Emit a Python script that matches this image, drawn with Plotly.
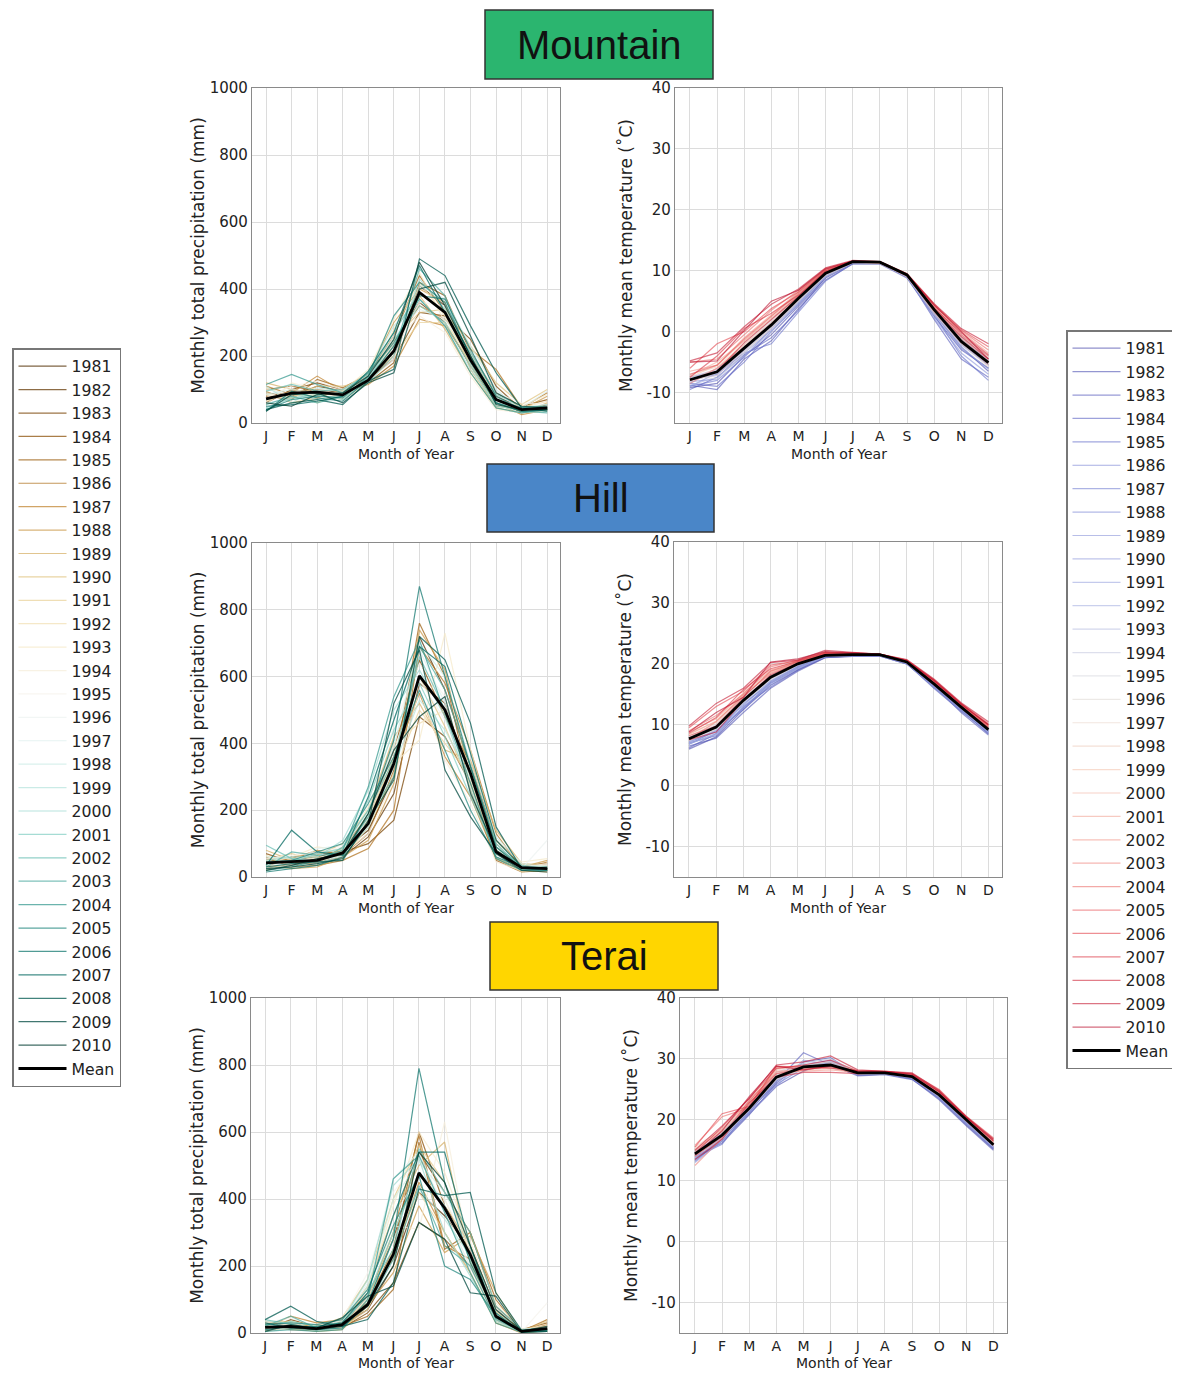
import plotly.graph_objects as go
from plotly.colors import sample_colorscale, diverging

# ---------------- data ----------------
month_labels = ["J", "F", "M", "A", "M", "J", "J", "A", "S", "O", "N", "D"]
month_idx = list(range(12))
years = list(range(1981, 2011))

mountain_precip = [
    [75, 95, 100, 90, 125, 200, 410, 350, 200, 80, 45, 40],
    [90, 80, 110, 95, 140, 240, 360, 300, 170, 60, 35, 55],
    [60, 100, 120, 100, 130, 190, 330, 320, 250, 110, 40, 50],
    [100, 110, 95, 85, 120, 180, 420, 380, 210, 90, 50, 70],
    [80, 70, 130, 105, 145, 260, 440, 330, 190, 70, 30, 45],
    [110, 85, 80, 75, 130, 230, 350, 310, 220, 160, 45, 90],
    [70, 90, 140, 95, 115, 170, 310, 290, 180, 60, 25, 40],
    [95, 60, 75, 100, 150, 300, 400, 360, 160, 50, 40, 80],
    [120, 100, 90, 80, 135, 210, 380, 280, 150, 45, 30, 60],
    [85, 75, 110, 110, 125, 250, 330, 340, 230, 120, 55, 100],
    [65, 95, 60, 90, 140, 200, 300, 300, 200, 80, 35, 45],
    [105, 80, 85, 70, 120, 280, 420, 320, 170, 55, 45, 65],
    [55, 120, 100, 95, 160, 310, 450, 300, 190, 70, 50, 85],
    [90, 65, 70, 85, 130, 240, 320, 270, 140, 40, 30, 35],
    [75, 110, 125, 100, 145, 220, 360, 350, 210, 90, 60, 55],
    [100, 85, 95, 80, 125, 190, 390, 330, 180, 65, 40, 50],
    [60, 70, 80, 75, 135, 260, 340, 310, 200, 75, 45, 95],
    [85, 100, 90, 90, 140, 230, 410, 370, 230, 100, 35, 40],
    [110, 60, 105, 95, 150, 290, 370, 290, 160, 55, 30, 45],
    [70, 90, 70, 85, 120, 200, 430, 340, 190, 60, 45, 55],
    [45, 75, 85, 70, 130, 250, 350, 300, 170, 50, 40, 35],
    [95, 115, 95, 100, 145, 270, 390, 330, 210, 85, 50, 45],
    [55, 80, 60, 80, 135, 210, 460, 380, 180, 60, 35, 30],
    [115, 145, 115, 90, 150, 240, 370, 290, 150, 45, 30, 40],
    [40, 70, 80, 75, 140, 320, 420, 360, 200, 70, 45, 50],
    [35, 95, 75, 65, 130, 230, 380, 370, 220, 80, 40, 45],
    [50, 55, 65, 80, 155, 270, 470, 330, 190, 60, 35, 40],
    [40, 60, 70, 55, 125, 160, 490, 440, 290, 150, 45, 35],
    [35, 85, 90, 60, 120, 150, 400, 420, 260, 90, 50, 45],
    [60, 50, 85, 90, 140, 250, 480, 350, 200, 55, 40, 40],
]
mountain_precip_mean = [72, 89, 92, 84, 128, 215, 390, 330, 188, 70, 40, 45]

mountain_temp = [
    [-9.2, -8.5, -4.0, -0.5, 4.2, 8.8, 11.2, 11.2, 9.0, 3.0, -2.5, -6.5],
    [-8.8, -9.5, -4.5, -1.5, 3.8, 8.5, 11.1, 11.1, 8.8, 2.5, -3.0, -6.0],
    [-9.5, -7.5, -3.8, -1.0, 3.5, 9.0, 11.3, 11.2, 9.1, 2.0, -4.5, -7.5],
    [-8.5, -9.0, -5.0, 0.0, 4.5, 9.2, 11.4, 11.3, 9.2, 3.2, -2.0, -5.5],
    [-8.0, -7.0, -3.5, -2.0, 3.2, 8.3, 11.2, 11.2, 9.0, 2.8, -4.0, -8.0],
    [-9.0, -8.0, -4.2, 0.5, 4.8, 9.4, 11.5, 11.3, 9.3, 3.5, -1.5, -4.5],
    [-7.5, -6.5, -2.5, 1.0, 5.0, 9.2, 11.4, 11.3, 9.1, 3.0, -2.8, -6.0],
    [-8.2, -7.8, -3.0, 0.8, 5.2, 9.6, 11.5, 11.4, 9.4, 3.8, -1.0, -5.0],
    [-9.0, -6.8, -3.5, 0.2, 4.5, 9.0, 11.3, 11.2, 9.0, 2.2, -3.5, -7.0],
    [-7.8, -7.2, -2.8, 1.2, 5.5, 9.5, 11.5, 11.4, 9.3, 4.0, -1.2, -4.8],
    [-8.5, -6.0, -3.2, 0.5, 5.0, 9.3, 11.4, 11.3, 9.2, 3.3, -2.2, -5.5],
    [-8.8, -7.5, -4.0, 0.0, 4.8, 9.0, 11.3, 11.2, 9.0, 2.8, -2.5, -6.2],
    [-7.5, -6.2, -2.5, 1.5, 5.5, 9.8, 11.6, 11.4, 9.4, 3.8, -1.0, -4.5],
    [-8.0, -6.5, -2.0, 1.8, 6.0, 10.0, 11.6, 11.5, 9.5, 4.2, -0.8, -4.0],
    [-7.2, -7.8, -3.5, 0.8, 5.2, 9.4, 11.4, 11.3, 9.2, 3.5, -1.8, -5.2],
    [-8.2, -6.8, -2.8, 1.0, 5.4, 9.6, 11.5, 11.4, 9.3, 3.6, -1.5, -5.0],
    [-7.8, -7.2, -3.2, 0.5, 5.0, 9.2, 11.3, 11.2, 9.0, 3.0, -2.0, -5.8],
    [-7.0, -5.8, -2.0, 2.0, 6.2, 10.2, 11.6, 11.5, 9.5, 4.5, -0.5, -4.2],
    [-7.5, -5.5, -1.5, 2.5, 6.5, 10.0, 11.5, 11.4, 9.4, 4.0, -1.0, -4.5],
    [-8.0, -6.0, -2.2, 1.5, 5.8, 9.8, 11.5, 11.4, 9.3, 3.2, -1.5, -5.5],
    [-7.2, -5.0, -1.5, 2.2, 6.0, 9.9, 11.5, 11.3, 9.2, 3.8, -1.2, -4.8],
    [-6.5, -5.5, -1.0, 2.8, 6.5, 10.2, 11.6, 11.4, 9.4, 4.2, 0.0, -3.5],
    [-8.5, -6.0, -2.5, 1.2, 5.5, 9.6, 11.4, 11.3, 9.2, 3.5, -1.8, -5.2],
    [-5.0, -4.5, -0.5, 3.5, 6.8, 10.4, 11.6, 11.5, 9.5, 4.5, 0.2, -3.0],
    [-7.0, -5.5, -1.2, 2.5, 6.2, 10.0, 11.5, 11.4, 9.3, 4.0, -0.5, -4.0],
    [-6.0, -2.0, 0.0, 3.8, 6.5, 10.2, 11.6, 11.5, 9.4, 4.3, 0.3, -2.5],
    [-7.5, -4.0, 0.5, 3.0, 6.0, 9.8, 11.5, 11.4, 9.3, 3.8, -0.2, -3.8],
    [-8.0, -6.5, -1.8, 2.0, 5.8, 10.0, 11.5, 11.4, 9.2, 3.5, -0.8, -4.5],
    [-4.8, -3.5, 0.8, 4.5, 7.0, 10.5, 11.7, 11.5, 9.5, 4.6, 0.5, -2.0],
    [-5.0, -4.8, 0.2, 5.0, 6.8, 10.3, 11.6, 11.4, 9.4, 4.4, 0.0, -4.5],
]
mountain_temp_mean = [-7.9, -6.6, -2.7, 1.1, 5.5, 9.6, 11.5, 11.4, 9.3, 3.6, -1.6, -5.1]

hill_precip = [
    [40, 50, 60, 80, 140, 300, 720, 560, 330, 90, 30, 20],
    [55, 35, 45, 60, 120, 250, 580, 520, 300, 70, 25, 30],
    [30, 60, 70, 75, 100, 170, 480, 420, 280, 60, 20, 25],
    [70, 45, 40, 90, 180, 380, 650, 480, 340, 110, 35, 40],
    [25, 40, 55, 65, 130, 320, 760, 600, 260, 50, 15, 20],
    [60, 30, 35, 50, 85, 200, 690, 580, 380, 130, 25, 45],
    [45, 55, 80, 70, 160, 350, 550, 360, 240, 55, 20, 15],
    [35, 25, 30, 60, 110, 280, 740, 620, 290, 80, 30, 50],
    [80, 50, 65, 100, 200, 420, 520, 380, 350, 140, 40, 35],
    [50, 70, 50, 85, 170, 360, 600, 450, 270, 70, 25, 20],
    [20, 45, 60, 55, 150, 310, 500, 400, 300, 60, 15, 25],
    [65, 30, 40, 75, 190, 400, 460, 500, 320, 90, 35, 30],
    [40, 60, 90, 80, 210, 340, 410, 730, 380, 100, 45, 55],
    [30, 40, 45, 70, 130, 290, 560, 350, 220, 45, 20, 25],
    [55, 65, 70, 90, 220, 450, 640, 540, 290, 85, 30, 40],
    [45, 50, 55, 60, 180, 380, 590, 470, 310, 75, 25, 110],
    [35, 40, 85, 95, 240, 470, 680, 520, 270, 65, 30, 35],
    [60, 55, 50, 80, 200, 390, 700, 600, 340, 120, 40, 30],
    [25, 35, 40, 65, 150, 330, 530, 440, 300, 80, 20, 20],
    [50, 60, 60, 110, 260, 500, 620, 480, 260, 60, 25, 25],
    [40, 45, 70, 85, 230, 440, 580, 420, 240, 70, 30, 30],
    [95, 55, 45, 90, 200, 350, 660, 500, 310, 90, 35, 25],
    [30, 75, 65, 70, 180, 300, 690, 560, 330, 100, 25, 20],
    [20, 30, 50, 80, 270, 540, 710, 490, 280, 55, 20, 20],
    [45, 50, 75, 100, 220, 360, 560, 380, 200, 60, 30, 25],
    [15, 25, 35, 60, 190, 410, 870, 600, 330, 90, 25, 20],
    [35, 140, 75, 65, 240, 470, 690, 630, 370, 110, 30, 25],
    [30, 40, 45, 50, 170, 290, 720, 650, 460, 150, 25, 30],
    [25, 30, 40, 55, 160, 520, 680, 320, 180, 70, 20, 15],
    [20, 35, 55, 70, 190, 380, 480, 540, 250, 80, 30, 25],
]
hill_precip_mean = [42, 45, 50, 72, 160, 340, 602, 500, 310, 75, 28, 25]

hill_temp = [
    [6.0, 8.0, 12.5, 16.5, 19.0, 21.0, 21.2, 21.3, 20.0, 16.2, 12.5, 8.5],
    [6.5, 7.8, 12.0, 16.0, 18.8, 21.0, 21.3, 21.4, 20.1, 16.0, 12.2, 8.8],
    [6.2, 8.5, 12.8, 16.8, 19.2, 21.1, 21.2, 21.3, 20.0, 16.4, 12.0, 8.3],
    [7.0, 8.2, 13.0, 16.2, 19.0, 21.2, 21.4, 21.4, 20.2, 16.5, 12.6, 9.0],
    [6.8, 9.0, 12.5, 17.0, 19.5, 21.3, 21.3, 21.4, 20.1, 16.3, 12.4, 8.6],
    [7.2, 8.8, 13.5, 16.8, 19.3, 21.2, 21.4, 21.5, 20.3, 16.8, 12.8, 9.1],
    [7.5, 9.5, 13.2, 17.2, 19.6, 21.4, 21.5, 21.5, 20.2, 16.6, 12.7, 9.3],
    [6.8, 8.6, 13.8, 17.5, 19.8, 21.3, 21.4, 21.4, 20.2, 16.5, 12.5, 8.9],
    [7.0, 9.2, 12.8, 16.5, 19.4, 21.1, 21.3, 21.3, 20.0, 16.2, 12.3, 8.7],
    [7.8, 9.8, 14.0, 17.8, 20.0, 21.5, 21.5, 21.5, 20.3, 16.8, 13.0, 9.4],
    [7.3, 9.0, 13.5, 17.2, 19.7, 21.4, 21.5, 21.4, 20.2, 16.6, 12.8, 9.2],
    [6.9, 8.4, 13.0, 16.8, 19.2, 21.2, 21.3, 21.4, 20.1, 16.3, 12.5, 8.8],
    [7.6, 9.6, 14.2, 17.6, 20.0, 21.5, 21.6, 21.5, 20.4, 16.9, 13.0, 9.5],
    [8.0, 10.0, 14.5, 18.0, 20.2, 21.6, 21.6, 21.5, 20.4, 17.0, 13.1, 9.6],
    [7.4, 9.2, 13.6, 17.4, 19.8, 21.4, 21.5, 21.5, 20.3, 16.7, 12.9, 9.3],
    [7.8, 9.6, 14.0, 17.8, 20.0, 21.5, 21.5, 21.5, 20.3, 16.8, 13.0, 9.3],
    [7.5, 9.4, 13.8, 17.6, 19.9, 21.4, 21.5, 21.5, 20.2, 16.6, 12.8, 9.2],
    [8.2, 10.2, 14.8, 18.5, 20.3, 21.7, 21.7, 21.6, 20.5, 17.2, 13.2, 9.8],
    [8.5, 10.5, 15.0, 18.8, 20.4, 21.8, 21.6, 21.5, 20.4, 17.0, 13.1, 9.6],
    [7.9, 9.8, 14.2, 18.0, 20.1, 21.5, 21.5, 21.5, 20.3, 16.8, 13.0, 9.4],
    [8.4, 10.6, 14.6, 18.6, 20.3, 21.7, 21.6, 21.5, 20.5, 17.1, 13.2, 9.7],
    [8.8, 11.0, 15.2, 19.0, 20.5, 21.8, 21.7, 21.6, 20.5, 17.2, 13.3, 9.9],
    [7.6, 10.5, 14.8, 18.4, 20.2, 21.6, 21.6, 21.5, 20.4, 17.0, 13.1, 9.6],
    [9.0, 11.5, 15.0, 19.5, 20.6, 21.9, 21.7, 21.6, 20.6, 17.3, 13.4, 10.0],
    [8.2, 9.8, 14.5, 18.8, 20.3, 21.7, 21.6, 21.5, 20.4, 17.1, 13.2, 9.8],
    [9.5, 13.0, 15.5, 19.8, 20.5, 21.9, 21.8, 21.6, 20.6, 17.4, 13.5, 10.2],
    [8.6, 11.2, 15.8, 19.2, 20.4, 21.8, 21.7, 21.6, 20.5, 17.2, 13.3, 10.0],
    [7.5, 8.8, 14.0, 18.2, 20.1, 21.6, 21.6, 21.5, 20.3, 16.9, 13.0, 9.5],
    [9.8, 13.5, 16.0, 20.2, 20.6, 22.2, 21.9, 21.6, 20.7, 17.5, 13.6, 10.5],
    [8.8, 12.0, 14.5, 20.3, 20.8, 22.0, 21.8, 21.6, 20.5, 17.3, 13.4, 10.0],
]
hill_temp_mean = [7.7, 9.6, 14.0, 17.8, 20.0, 21.4, 21.5, 21.5, 20.3, 16.7, 12.9, 9.2]

terai_precip = [
    [20, 15, 10, 20, 70, 200, 420, 350, 250, 60, 5, 10],
    [30, 25, 15, 30, 110, 280, 540, 420, 300, 80, 8, 20],
    [10, 40, 20, 15, 60, 150, 330, 280, 200, 40, 3, 5],
    [25, 10, 8, 35, 90, 250, 600, 380, 260, 70, 10, 30],
    [5, 20, 25, 20, 50, 130, 570, 250, 300, 100, 2, 15],
    [35, 30, 12, 25, 100, 300, 590, 260, 220, 55, 5, 40],
    [15, 50, 30, 40, 120, 220, 450, 300, 180, 30, 0, 8],
    [20, 15, 5, 10, 80, 180, 380, 240, 290, 120, 5, 25],
    [8, 25, 18, 30, 140, 350, 500, 570, 210, 45, 10, 12],
    [30, 35, 20, 45, 160, 400, 560, 450, 240, 65, 5, 35],
    [12, 10, 10, 15, 70, 250, 420, 300, 180, 35, 2, 10],
    [25, 20, 15, 20, 90, 300, 470, 400, 230, 50, 8, 5],
    [10, 30, 25, 35, 130, 380, 600, 480, 270, 90, 12, 20],
    [5, 15, 8, 25, 100, 320, 310, 630, 220, 60, 5, 15],
    [30, 45, 20, 40, 180, 420, 520, 380, 190, 40, 3, 90],
    [15, 20, 10, 20, 120, 350, 470, 400, 250, 70, 15, 10],
    [20, 25, 15, 30, 150, 460, 540, 360, 200, 50, 5, 12],
    [35, 30, 12, 25, 140, 400, 510, 420, 260, 55, 8, 8],
    [10, 15, 8, 15, 90, 280, 430, 340, 230, 45, 4, 6],
    [25, 20, 18, 35, 160, 440, 520, 300, 170, 35, 5, 10],
    [15, 35, 20, 30, 110, 300, 480, 380, 220, 60, 3, 8],
    [40, 25, 12, 20, 120, 250, 550, 420, 300, 80, 10, 15],
    [20, 50, 15, 25, 80, 220, 440, 260, 200, 40, 5, 5],
    [5, 10, 5, 10, 100, 460, 530, 360, 180, 30, 2, 5],
    [25, 30, 25, 40, 130, 320, 470, 200, 160, 50, 4, 10],
    [10, 20, 10, 15, 90, 280, 790, 450, 210, 60, 3, 8],
    [30, 15, 20, 30, 120, 350, 540, 540, 260, 45, 5, 12],
    [40, 80, 35, 20, 40, 150, 430, 410, 420, 120, 8, 15],
    [5, 25, 15, 45, 110, 140, 330, 280, 120, 110, 2, 5],
    [20, 15, 10, 20, 80, 200, 540, 450, 260, 70, 6, 20],
]
terai_precip_mean = [17, 20, 13, 25, 85, 235, 478, 373, 234, 50, 5, 13]

terai_temp = [
    [13.5, 16.5, 21.0, 25.5, 28.0, 29.5, 27.5, 27.6, 26.8, 23.5, 19.2, 15.2],
    [14.0, 16.2, 20.8, 26.0, 29.5, 30.2, 27.3, 27.5, 26.7, 23.3, 19.0, 15.0],
    [13.2, 16.8, 21.5, 26.2, 31.0, 29.0, 27.2, 27.4, 26.6, 23.6, 19.4, 15.4],
    [14.2, 17.0, 21.2, 26.5, 29.0, 29.8, 27.6, 27.7, 27.0, 23.8, 19.5, 15.6],
    [13.8, 16.0, 21.8, 25.8, 28.5, 28.8, 27.4, 27.6, 26.9, 23.7, 19.6, 15.3],
    [14.5, 17.2, 21.5, 26.8, 28.8, 29.2, 27.7, 27.7, 27.0, 24.0, 19.8, 15.8],
    [14.8, 17.5, 22.0, 27.0, 29.2, 28.5, 27.8, 27.8, 27.2, 24.2, 20.0, 16.0],
    [13.6, 17.0, 21.4, 26.4, 28.6, 29.4, 27.6, 27.7, 27.0, 23.9, 19.7, 15.7],
    [13.0, 16.5, 21.0, 25.5, 29.8, 28.9, 27.5, 27.5, 26.8, 23.5, 19.3, 15.5],
    [14.6, 17.8, 22.2, 27.2, 28.7, 29.0, 27.7, 27.8, 27.1, 24.1, 20.0, 15.9],
    [14.0, 17.4, 22.0, 26.8, 28.5, 29.6, 27.5, 27.6, 27.0, 23.8, 19.7, 15.6],
    [13.8, 16.8, 21.5, 26.5, 28.8, 29.5, 27.4, 27.6, 26.9, 23.7, 19.5, 15.5],
    [14.5, 17.6, 22.4, 27.5, 29.0, 28.6, 27.8, 27.9, 27.2, 24.3, 20.1, 16.0],
    [14.8, 18.0, 22.5, 27.8, 29.3, 30.0, 27.9, 27.8, 27.2, 24.2, 20.2, 16.2],
    [14.2, 17.0, 21.8, 27.0, 28.6, 29.0, 27.6, 27.7, 27.0, 24.0, 19.9, 15.8],
    [14.5, 17.5, 22.0, 27.2, 28.8, 29.2, 27.7, 27.7, 27.1, 24.1, 20.0, 15.9],
    [14.0, 17.2, 21.6, 26.6, 28.4, 28.8, 27.6, 27.6, 27.0, 23.9, 19.8, 15.7],
    [15.0, 18.2, 22.8, 28.2, 29.0, 29.5, 28.0, 27.9, 27.3, 24.5, 20.3, 16.3],
    [15.5, 18.5, 23.0, 28.5, 28.5, 29.2, 27.9, 27.8, 27.3, 24.6, 20.4, 16.4],
    [14.6, 17.6, 22.0, 27.2, 28.2, 28.5, 27.7, 27.8, 27.2, 24.2, 20.1, 16.0],
    [15.2, 18.0, 22.6, 27.8, 28.6, 29.0, 27.9, 27.9, 27.3, 24.4, 20.3, 16.3],
    [14.8, 18.5, 23.0, 28.0, 28.0, 28.2, 27.8, 27.8, 27.2, 24.3, 20.2, 16.2],
    [12.5, 17.0, 22.5, 27.5, 28.4, 28.6, 27.6, 27.7, 27.0, 24.0, 19.8, 15.8],
    [15.8, 20.5, 22.0, 28.6, 28.8, 29.0, 28.0, 27.9, 27.5, 24.8, 20.5, 16.8],
    [14.0, 17.2, 23.2, 27.6, 28.2, 28.8, 27.8, 27.8, 27.2, 24.2, 20.1, 16.0],
    [15.5, 21.0, 22.2, 28.8, 28.6, 28.5, 28.1, 28.0, 27.6, 25.0, 20.6, 17.0],
    [14.5, 18.8, 23.5, 28.4, 29.0, 29.8, 28.0, 27.9, 27.4, 24.6, 20.4, 16.5],
    [13.5, 16.8, 22.8, 27.0, 27.8, 27.8, 27.6, 27.7, 27.1, 24.2, 20.0, 15.9],
    [15.0, 19.0, 23.5, 29.0, 29.5, 30.5, 28.2, 28.0, 27.7, 24.8, 20.5, 16.8],
    [14.2, 18.2, 23.8, 28.8, 28.2, 28.8, 28.0, 27.9, 27.5, 24.6, 20.4, 16.6],
]
terai_temp_mean = [14.4, 17.5, 21.9, 27.0, 28.7, 29.0, 27.7, 27.7, 27.1, 24.1, 20.0, 15.9]

precip_ticks = [0, 200, 400, 600, 800, 1000]
temp_ticks = [-10, 0, 10, 20, 30, 40]
temp_ticktext = ["-10", "0", "10", "20", "30", "40"]

regions = ["Mountain", "Hill", "Terai"]
region_colors = ["#2bb56f", "#4a86c8", "#ffd600"]

# ---------------- colours ----------------
OFF = 8                      # page body margin
W, H = 1180 - OFF, 1374 - OFF
fracs = [i / (len(years) - 1) for i in range(len(years))]
brbg = sample_colorscale(diverging.BrBG, fracs)
coolwarm_scale = [
    [0.0, "rgb(70,70,170)"], [0.125, "rgb(95,105,200)"], [0.25, "rgb(128,140,215)"],
    [0.375, "rgb(165,175,225)"], [0.5, "rgb(221,221,221)"], [0.625, "rgb(244,196,173)"],
    [0.75, "rgb(240,140,130)"], [0.875, "rgb(225,60,70)"], [1.0, "rgb(185,10,40)"],
]
coolwarm = sample_colorscale(coolwarm_scale, fracs)


def rgba(c, a):
    vals = c[c.index("(") + 1:c.index(")")].split(",")
    r, g, b = [int(round(float(v))) for v in vals[:3]]
    return f"rgba({r},{g},{b},{a})"


def px(v):
    return (v - OFF) / W


def py(v):
    return 1 - (v - OFF) / H


precip_colors = [rgba(c, 0.75) for c in brbg]
temp_colors = [rgba(c, 0.6) for c in coolwarm]

# ---------------- figure ----------------
fig = go.Figure()

panels = [
    (mountain_precip, mountain_precip_mean, "precip", (252, 560, 88, 423)),
    (mountain_temp, mountain_temp_mean, "temp", (675, 1002, 88, 423)),
    (hill_precip, hill_precip_mean, "precip", (252, 560, 543, 877)),
    (hill_temp, hill_temp_mean, "temp", (674, 1002, 542, 877)),
    (terai_precip, terai_precip_mean, "precip", (251, 560, 998, 1333)),
    (terai_temp, terai_temp_mean, "temp", (680, 1007, 998, 1333)),
]

layout_axes = {}
annotations = []
for k, (rows, mean, kind, (x0, x1, y0, y1)) in enumerate(panels, start=1):
    xa = "x" if k == 1 else f"x{k}"
    ya = "y" if k == 1 else f"y{k}"
    first = k in (1, 2)
    legend_name = "legend" if kind == "precip" else "legend2"
    colors = precip_colors if kind == "precip" else temp_colors
    for yr, vals, col in zip(years, rows, colors):
        fig.add_trace(go.Scatter(
            x=month_idx, y=vals, mode="lines", name=str(yr),
            line=dict(color=col, width=1.2),
            xaxis=xa, yaxis=ya, showlegend=first, legend=legend_name,
            hovertemplate=f"{yr}: %{{y}}<extra></extra>",
        ))
    fig.add_trace(go.Scatter(
        x=month_idx, y=mean, mode="lines", name="Mean",
        line=dict(color="black", width=2.8),
        xaxis=xa, yaxis=ya, showlegend=first, legend=legend_name,
    ))

    axis_common = dict(
        showgrid=True, gridcolor="#dcdcdc", gridwidth=1,
        showline=True, linecolor="#8a8a8a", linewidth=1.2, mirror=True,
        ticks="",
        tickfont=dict(family="DejaVu Sans", size=15, color="#222"),
        zeroline=False, automargin=False,
    )
    layout_axes["xaxis" if k == 1 else f"xaxis{k}"] = dict(
        axis_common,
        domain=[px(x0), px(x1)], anchor=ya,
        range=[-0.55, 11.5], tickvals=month_idx, ticktext=month_labels,
        tickfont=dict(family="DejaVu Sans", size=14, color="#222"),
    )
    # x-axis title placed as text just below the tick labels
    title_gap = 31 if y1 < 1300 else 30
    annotations.append(dict(text="Month of Year", xref="paper", yref="paper",
                            x=px((x0 + x1) / 2), y=py(y1 + title_gap),
                            showarrow=False, xanchor="center", yanchor="middle",
                            borderpad=0,
                            font=dict(family="DejaVu Sans", size=14, color="#222")))
    if kind == "precip":
        yextra = dict(range=[0, 1000], tickvals=precip_ticks,
                      title=dict(text="Monthly total precipitation (mm)", standoff=0,
                                 font=dict(family="DejaVu Sans", size=17, color="#222")))
    else:
        yextra = dict(range=[-15, 40], tickvals=temp_ticks, ticktext=temp_ticktext,
                      title=dict(text="Monthly mean temperature (˚C)", standoff=9,
                                 font=dict(family="DejaVu Sans", size=17, color="#222")))
    layout_axes["yaxis" if k == 1 else f"yaxis{k}"] = dict(
        axis_common, domain=[py(y1), py(y0)], anchor=xa, **yextra)

# region title boxes
boxes = [(485, 713, 10, 79), (487, 714, 464, 532), (490, 718, 922, 990)]
shapes = []
for name, col, (bx0, bx1, by0, by1) in zip(regions, region_colors, boxes):
    shapes.append(dict(type="rect", xref="paper", yref="paper",
                       x0=px(bx0), x1=px(bx1), y0=py(by1), y1=py(by0),
                       fillcolor=col, line=dict(color="#333", width=1.5), layer="above"))
    annotations.append(dict(text=name, xref="paper", yref="paper",
                            x=px((bx0 + bx1) / 2), y=py((by0 + by1) / 2),
                            showarrow=False, xanchor="center", yanchor="middle",
                            font=dict(family="Liberation Sans", size=40, color="#111")))

legend_style = dict(
    bgcolor="white", bordercolor="#777", borderwidth=1.5,
    font=dict(family="DejaVu Sans", size=15.7, color="#222"),
    xanchor="left", yanchor="top", tracegroupgap=0, itemwidth=48,
)

fig.update_layout(
    width=W, height=H,
    margin=dict(l=0, r=0, t=0, b=0, autoexpand=False),
    paper_bgcolor="white", plot_bgcolor="white",
    showlegend=True,
    legend=dict(legend_style, x=px(12), y=py(348)),
    legend2=dict(legend_style, x=px(1066), y=py(330)),
    shapes=shapes, annotations=annotations,
    **layout_axes,
)

fig.write_html("out.html")
